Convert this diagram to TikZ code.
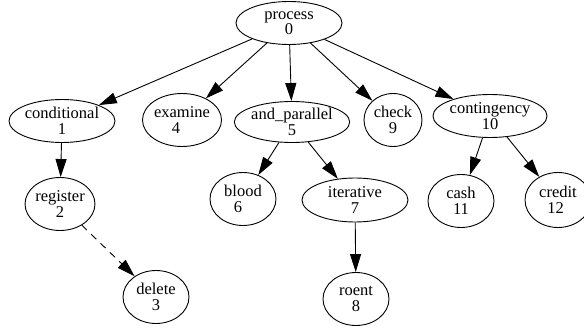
\documentclass[tikz,border=0pt]{standalone}
\usepackage{fontspec}
\setmainfont{Liberation Serif}
\usetikzlibrary{shapes.geometric,arrows.meta}

\begin{document}
\begin{tikzpicture}[x=1pt,y=-1pt,
    estado/.style={ellipse,draw,line width=0.9pt,inner sep=0pt,align=center,
        font=\fontsize{16.5}{15.5}\selectfont,minimum width=66pt,minimum height=53pt},
    ancho/.style={estado,minimum width=106pt,minimum height=43pt},
    flecha/.style={line width=0.9pt,-{Triangle[length=18pt,width=11pt]}}]

    % marco
    \useasboundingbox (0,0) rectangle (584,329);

    % nodos
    \node[ancho] (process) at (289,23) {process\\0};
    \node[ancho] (conditional) at (62,121) {conditional\\1};
    \node[estado,minimum width=63pt] (examine) at (182,120) {examine\\\hspace*{-12pt}4};
    \node[ancho,minimum height=41pt] (andpar) at (292,122) {and\_parallel\\5};
    \node[estado,minimum width=58pt] (check) at (393,120) {check\\9};
    \node[ancho] (contingency) at (490,116) {contingency\\10};
    \node[estado] (register) at (60,204) {register\\2};
    \node[estado] (delete) at (156,297) {delete\\3};
    \node[estado] (blood) at (243,199) {blood\\\hspace*{-10pt}6};
    \node[ancho,minimum height=44pt] (iterative) at (355,200) {iterative\\7};
    \node[estado] (roent) at (356,299) {roent\\8};
    \node[estado] (cash) at (461,201) {cash\\11};
    \node[estado,minimum height=55pt] (credit) at (558,200) {credit\\\hspace*{-5pt}12};

    % aristas
    \foreach \a/\b in {process/conditional, process/examine, process/andpar,
        process/check, process/contingency, conditional/register,
        andpar/blood, andpar/iterative, iterative/roent,
        contingency/cash, contingency/credit}
        \draw[flecha] (\a) -- (\b);
    \draw[flecha,dash pattern=on 7pt off 6pt] (register) -- (delete);
\end{tikzpicture}
\end{document}
